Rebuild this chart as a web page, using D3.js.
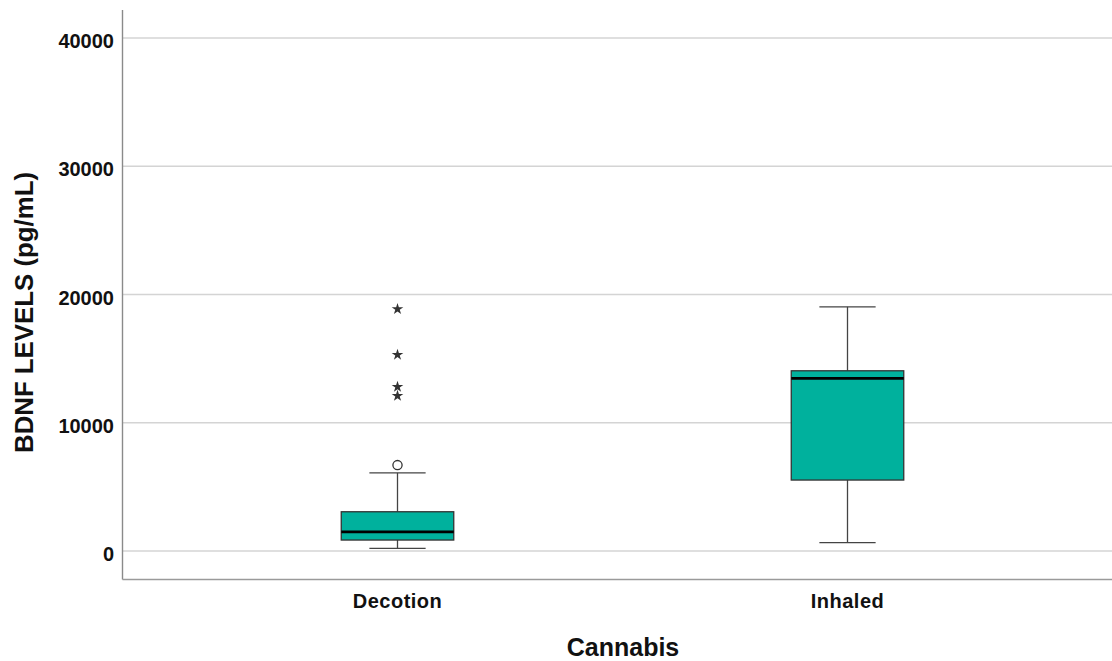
<!DOCTYPE html>
<html>
<head>
<meta charset="utf-8">
<script src="https://cdn.jsdelivr.net/npm/d3@7/dist/d3.min.js"></script>
<style>
  html, body { margin: 0; padding: 0; background: #fff; }
  svg { display: block; font-family: "Liberation Sans", Arial, sans-serif; }
</style>
</head>
<body>
<svg id="chart" width="1112" height="661"></svg>
<script>
// Box-plot summaries of BDNF levels by cannabis group
const categories = ["Decotion", "Inhaled"];
const whiskerLow  = [210, 650];
const q1          = [857, 5534];
const median      = [1496, 13460];
const q3          = [3063, 14053];
const whiskerHigh = [6095, 19040];
// outliers: mild (circle) and extreme (star)
const mildOutliers    = [{ cat: "Decotion", value: 6700 }];
const extremeOutliers = [
  { cat: "Decotion", value: 18860 },
  { cat: "Decotion", value: 15300 },
  { cat: "Decotion", value: 12800 },
  { cat: "Decotion", value: 12100 }
];
const yTicks = [0, 10000, 20000, 30000, 40000];
const yTitle = "BDNF LEVELS (pg/mL)";
const xTitle = "Cannabis";

const svg = d3.select("#chart");
const W = 1112;
const plotLeft = 122.5, plotTop = 10, plotBottom = 579.5;

const x = d3.scaleBand().domain(categories).range([172.5, 1072.5]).padding(0);
const y = d3.scaleLinear().domain([-2180, 42180]).range([579, 10]);

const boxW = x.bandwidth() * 0.25;
const capW = boxW / 2;

// horizontal gridlines
svg.append("g").selectAll("line").data(yTicks).join("line")
  .attr("x1", plotLeft).attr("x2", W)
  .attr("y1", d => y(d)).attr("y2", d => y(d))
  .attr("stroke", "#d4d4d4").attr("stroke-width", 1.6);

// axis frame
svg.append("line").attr("x1", plotLeft).attr("x2", plotLeft).attr("y1", plotTop).attr("y2", plotBottom)
  .attr("stroke", "#8a8a8a").attr("stroke-width", 1.4);
svg.append("line").attr("x1", plotLeft).attr("x2", W).attr("y1", plotBottom).attr("y2", plotBottom)
  .attr("stroke", "#9a9a9a").attr("stroke-width", 1.6);

// y tick labels
svg.append("g").selectAll("text").data(yTicks).join("text")
  .attr("x", 114).attr("y", d => y(d) + 10)
  .attr("text-anchor", "end")
  .attr("font-size", 20).attr("font-weight", "bold").attr("fill", "#111")
  .text(d => d);

// x category labels
svg.append("g").selectAll("text").data(categories).join("text")
  .attr("x", d => x(d) + x.bandwidth() / 2).attr("y", 608)
  .attr("text-anchor", "middle")
  .attr("font-size", 20).attr("font-weight", "bold").attr("fill", "#111")
  .attr("letter-spacing", 0.5)
  .text(d => d);

// axis titles
svg.append("text")
  .attr("x", 623).attr("y", 656)
  .attr("text-anchor", "middle")
  .attr("font-size", 25).attr("font-weight", "bold").attr("fill", "#111")
  .text(xTitle);

svg.append("text")
  .attr("transform", "translate(33,312.5) rotate(-90)")
  .attr("text-anchor", "middle")
  .attr("font-size", 26).attr("font-weight", "bold").attr("fill", "#111")
  .attr("textLength", 281).attr("lengthAdjust", "spacingAndGlyphs")
  .text(yTitle);

// boxes
const boxes = categories.map((c, i) => ({
  cat: c, lo: whiskerLow[i], q1: q1[i], med: median[i], q3: q3[i], hi: whiskerHigh[i]
}));
const cx = d => x(d.cat) + x.bandwidth() / 2;

const g = svg.append("g").selectAll("g").data(boxes).join("g");

// whisker stems
g.append("line")
  .attr("x1", cx).attr("x2", cx)
  .attr("y1", d => y(d.hi)).attr("y2", d => y(d.q3))
  .attr("stroke", "#444").attr("stroke-width", 1.3);
g.append("line")
  .attr("x1", cx).attr("x2", cx)
  .attr("y1", d => y(d.q1)).attr("y2", d => y(d.lo))
  .attr("stroke", "#444").attr("stroke-width", 1.3);
// whisker caps
["hi", "lo"].forEach(k => {
  g.append("line")
    .attr("x1", d => cx(d) - capW / 2).attr("x2", d => cx(d) + capW / 2)
    .attr("y1", d => y(d[k])).attr("y2", d => y(d[k]))
    .attr("stroke", "#444").attr("stroke-width", 1.3);
});
// box body
g.append("rect")
  .attr("x", d => cx(d) - boxW / 2).attr("width", boxW)
  .attr("y", d => y(d.q3)).attr("height", d => y(d.q1) - y(d.q3))
  .attr("fill", "#00b19d").attr("stroke", "#333").attr("stroke-width", 1.3);
// median
g.append("line")
  .attr("x1", d => cx(d) - boxW / 2).attr("x2", d => cx(d) + boxW / 2)
  .attr("y1", d => y(d.med)).attr("y2", d => y(d.med))
  .attr("stroke", "#000").attr("stroke-width", 2.8);

// mild outliers
svg.append("g").selectAll("circle").data(mildOutliers).join("circle")
  .attr("cx", d => x(d.cat) + x.bandwidth() / 2).attr("cy", d => y(d.value))
  .attr("r", 4.6).attr("fill", "#fff").attr("stroke", "#333").attr("stroke-width", 1.3);

// extreme outliers
const star = d3.symbol().type(d3.symbolStar).size(42);
svg.append("g").selectAll("path").data(extremeOutliers).join("path")
  .attr("transform", d => `translate(${x(d.cat) + x.bandwidth() / 2},${y(d.value)})`)
  .attr("d", star)
  .attr("fill", "#333");
</script>
</body>
</html>
